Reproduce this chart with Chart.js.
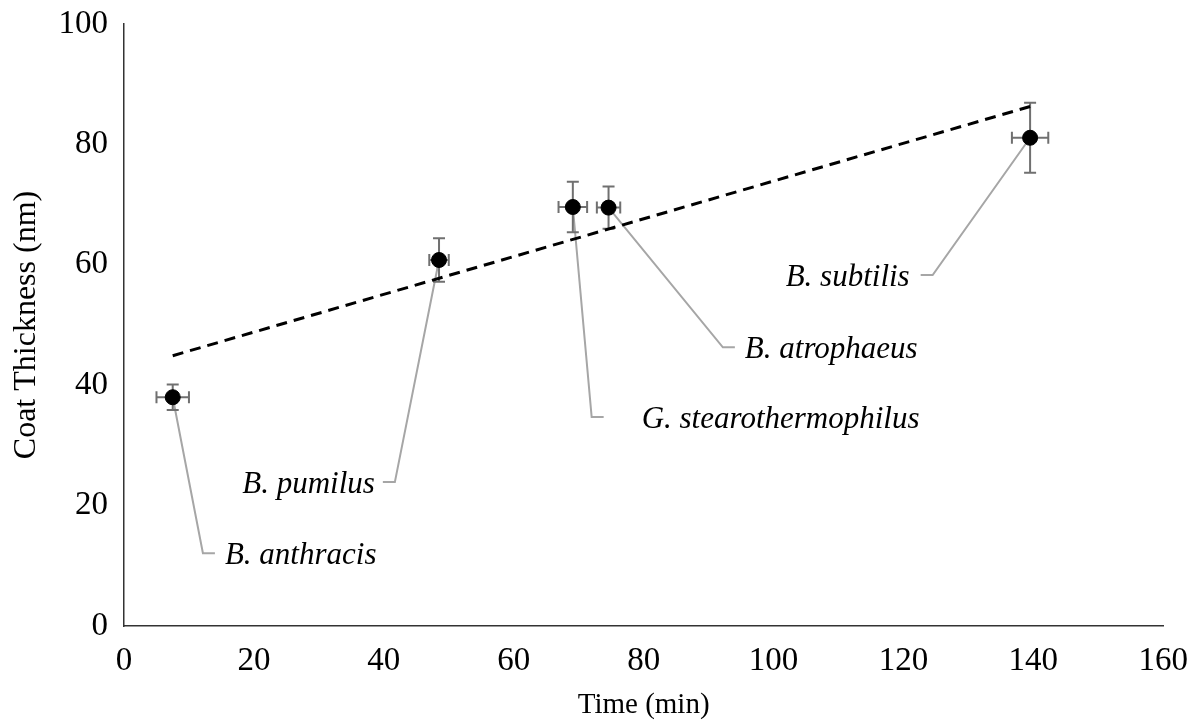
<!DOCTYPE html>
<html lang="en">
<head>
    <meta charset="UTF-8" />
    <title>Coat thickness vs time</title>
    <script src="https://cdn.jsdelivr.net/npm/chart.js"></script>
    <style>
        body {
            margin: 0;
            background: white;
        }
        .chart-box {
            width: 1198px;
            height: 726px;
        }
    </style>
</head>
<body>
<div class="chart-box">
    <canvas id="coatChart" width="1198" height="726"></canvas>
</div>
<script>
    // data
    const species = ['B. anthracis', 'B. pumilus', 'G. stearothermophilus', 'B. atrophaeus', 'B. subtilis'];
    const times = [7.5, 48.5, 69.1, 74.6, 139.5];
    const thickness = [38.0, 60.8, 69.6, 69.5, 81.1];
    const timeErr = [2.5, 1.5, 2.2, 1.8, 2.8];
    const thicknessErr = [2.1, 3.6, 4.2, 3.5, 5.8];
    const trendTime = [7.5, 139.5];
    const trendThickness = [44.9, 86.3];

    // where each callout elbow sits (axis units) and which side its text goes
    const callouts = [
        { x: 12.15, y: 12.1, side: 'right', gap: 10 },
        { x: 41.7, y: 23.9, side: 'left', gap: 8 },
        { x: 72.0, y: 34.7, side: 'right', gap: 38 },
        { x: 92.2, y: 46.3, side: 'right', gap: 10 },
        { x: 124.5, y: 58.3, side: 'left', gap: 11 }
    ];

    const serif = '"Liberation Serif", "Times New Roman", serif';

    const errorBars = {
        id: 'errorBars',
        beforeDatasetsDraw(chart) {
            const { ctx, scales: { x, y } } = chart;
            ctx.save();
            // leader lines first so the dots sit on top
            ctx.strokeStyle = '#a6a6a6';
            ctx.lineWidth = 2;
            callouts.forEach((c, i) => {
                const px = x.getPixelForValue(times[i]);
                const py = y.getPixelForValue(thickness[i]);
                const ex = x.getPixelForValue(c.x);
                const ey = y.getPixelForValue(c.y);
                const dir = c.side === 'right' ? 1 : -1;
                ctx.beginPath();
                ctx.moveTo(px, py);
                ctx.lineTo(ex, ey);
                ctx.lineTo(ex + dir * 12, ey);
                ctx.stroke();
            });

            ctx.strokeStyle = '#707070';
            ctx.lineWidth = 2;
            const cap = 6;
            times.forEach((t, i) => {
                const px = x.getPixelForValue(t);
                const py = y.getPixelForValue(thickness[i]);
                const y1 = y.getPixelForValue(thickness[i] - thicknessErr[i]);
                const y2 = y.getPixelForValue(thickness[i] + thicknessErr[i]);
                const x1 = x.getPixelForValue(t - timeErr[i]);
                const x2 = x.getPixelForValue(t + timeErr[i]);
                ctx.beginPath();
                ctx.moveTo(px, y1); ctx.lineTo(px, y2);
                ctx.moveTo(px - cap, y1); ctx.lineTo(px + cap, y1);
                ctx.moveTo(px - cap, y2); ctx.lineTo(px + cap, y2);
                ctx.moveTo(x1, py); ctx.lineTo(x2, py);
                ctx.moveTo(x1, py - cap); ctx.lineTo(x1, py + cap);
                ctx.moveTo(x2, py - cap); ctx.lineTo(x2, py + cap);
                ctx.stroke();
            });
            ctx.restore();
        },
        afterDatasetsDraw(chart) {
            const { ctx, scales: { x, y } } = chart;
            ctx.save();
            ctx.fillStyle = '#000';
            ctx.font = 'italic 31px ' + serif;
            ctx.textBaseline = 'middle';
            callouts.forEach((c, i) => {
                const ex = x.getPixelForValue(c.x);
                const ey = y.getPixelForValue(c.y);
                if (c.side === 'right') {
                    ctx.textAlign = 'left';
                    ctx.fillText(species[i], ex + 12 + c.gap, ey + 3);
                } else {
                    ctx.textAlign = 'right';
                    ctx.fillText(species[i], ex - 12 - c.gap, ey + 3);
                }
            });
            ctx.restore();
        }
    };

    new Chart(document.getElementById('coatChart'), {
        type: 'scatter',
        data: {
            datasets: [
                {
                    label: 'Coat thickness',
                    data: times.map((t, i) => ({ x: t, y: thickness[i] })),
                    pointRadius: 7.5,
                    pointBackgroundColor: '#000',
                    pointBorderColor: '#000',
                    order: 1
                },
                {
                    label: 'Trend',
                    data: trendTime.map((t, i) => ({ x: t, y: trendThickness[i] })),
                    showLine: true,
                    borderColor: '#000',
                    borderWidth: 3,
                    borderDash: [11, 7],
                    pointRadius: 0,
                    order: 2
                }
            ]
        },
        options: {
            responsive: false,
            animation: false,
            layout: {
                padding: { top: 0, right: 0, left: 0, bottom: 0 }
            },
            plugins: {
                legend: { display: false },
                tooltip: { enabled: false }
            },
            scales: {
                x: {
                    type: 'linear',
                    min: 0,
                    max: 160,
                    grid: { display: false, drawTicks: false },
                    border: { display: true, color: '#333', width: 1.5 },
                    ticks: {
                        stepSize: 20,
                        padding: 10,
                        color: '#000',
                        font: { family: serif, size: 33, lineHeight: 1.52 }
                    },
                    title: {
                        display: true,
                        text: 'Time (min)',
                        color: '#000',
                        font: { family: serif, size: 29 },
                        padding: { bottom: 3 }
                    },
                    afterFit(scale) { scale.height = 100; }
                },
                y: {
                    type: 'linear',
                    min: 0,
                    max: 100,
                    grid: { display: false, drawTicks: false },
                    border: { display: true, color: '#333', width: 1.5 },
                    ticks: {
                        stepSize: 20,
                        padding: 16,
                        color: '#000',
                        font: { family: serif, size: 33, lineHeight: 0.485 }
                    },
                    title: {
                        display: true,
                        text: 'Coat Thickness (nm)',
                        color: '#000',
                        font: { family: serif, size: 32 },
                        padding: { top: 7 }
                    },
                    afterFit(scale) { scale.width = 124; }
                }
            }
        },
        plugins: [errorBars]
    });
</script>
</body>
</html>
